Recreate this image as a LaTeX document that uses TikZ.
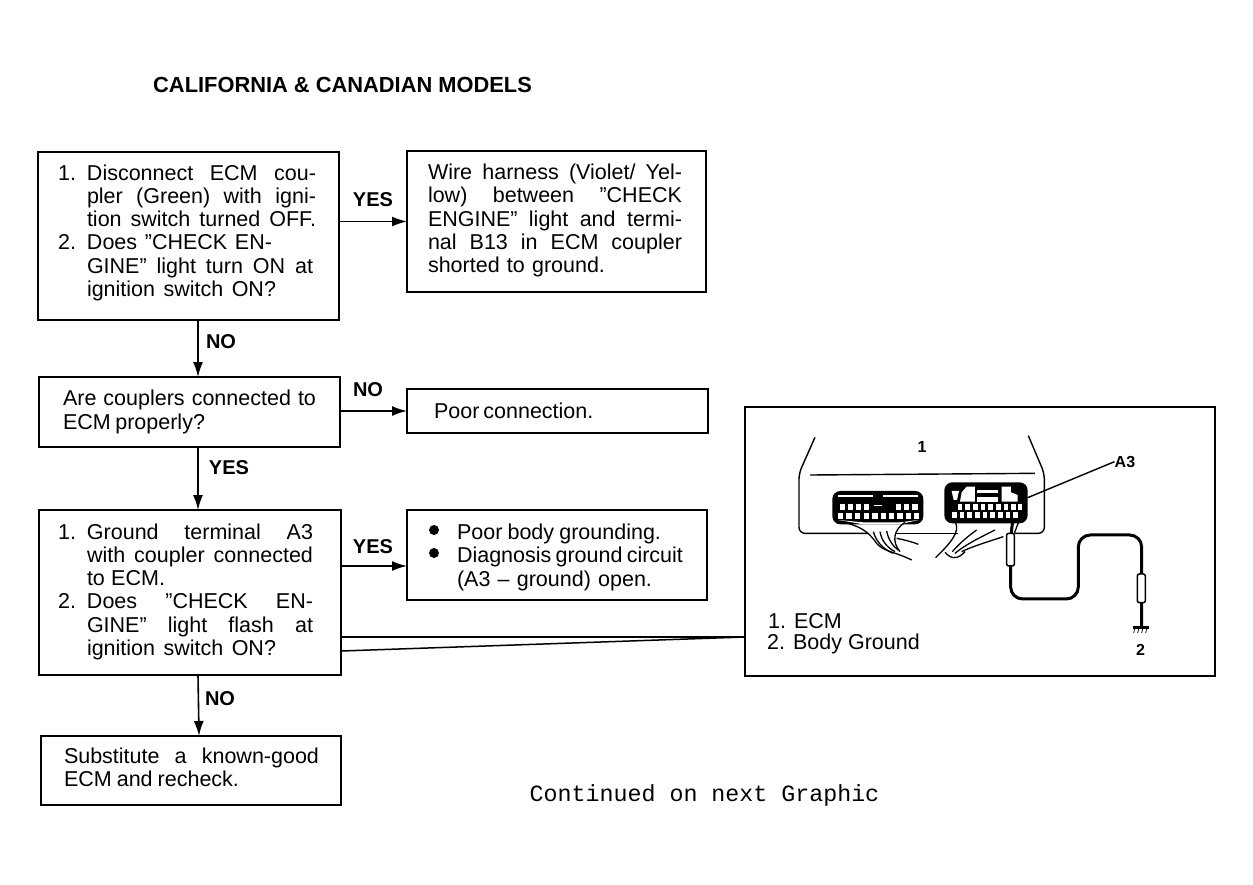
\documentclass[tikz,border=0pt]{standalone}
\usepackage{fontspec}
\setmainfont{Liberation Sans}
\newfontfamily\typefont{Liberation Mono}
\usetikzlibrary{arrows.meta,positioning}

% one justified line: left inset, width, text
\newcommand{\jl}[3]{\hspace*{#1pt}\makebox[#2pt][s]{\spaceskip=0pt \xspaceskip=0pt #3}}
\newcommand{\numd}[1]{\llap{#1\hspace{11pt}}}
\newcommand{\lift}[1]{\rule[-#1pt]{0pt}{#1pt}}

\begin{document}
\begin{tikzpicture}[
    x=1pt, y=-1pt,
    flowbox/.style={draw, line width=1.5pt, anchor=north west, inner sep=0pt, outer sep=0pt, align=left,
      font=\fontsize{21.5}{23.3}\selectfont},
    answer/.style={inner sep=0pt, font=\fontsize{20}{24}\selectfont\bfseries},
    arrow/.style={-{Latex[length=15pt, width=10pt]}, line width=1.6pt},
    tapline/.style={line width=1.5pt},
    inkline/.style={line width=1.4pt},
    wire/.style={line width=1.3pt},
    sleeve/.style={draw, fill=white, line width=1.5pt},
    pin/.style={fill=white},
    spot/.style={circle, fill, inner sep=0pt, minimum size=10pt}
  ]
    \useasboundingbox (0,0) rectangle (1253,884);

    \node[inner sep=0pt, anchor=west, font=\fontsize{21.85}{24}\selectfont\bfseries] (title) at (153,85) {CALIFORNIA \& CANADIAN MODELS};

    \node[flowbox, text width=301pt, minimum height=168pt] (disconnect) at (38,152) {%
      \jl{49}{229}{\numd{1.}Disconnect ECM cou-}\\
      \jl{49}{229}{pler (Green) with igni-}\\
      \jl{49}{229}{tion switch turned OFF.}\\
      \jl{49}{185}{\numd{2.}Does ”CHECK EN-}\\
      \jl{49}{226}{GINE” light turn ON at}\\
      \jl{49}{189}{ignition switch ON?}\lift{11}};
    \node[flowbox, text width=299pt, minimum height=141pt] (harness) at (407,151) {%
      \jl{21}{254}{Wire harness (Violet/ Yel-}\\
      \jl{21}{254}{low) between ”CHECK}\\
      \jl{21}{254}{ENGINE” light and termi-}\\
      \jl{21}{254}{nal B13 in ECM coupler}\\
      \jl{21}{177}{shorted to ground.}\lift{6}};
    \node[flowbox, text width=301pt, minimum height=70pt] (couplers) at (39,377) {%
      \jl{24}{253}{Are couplers connected to}\\
      \jl{24}{142}{ECM properly?}};
    \node[flowbox, text width=301pt, minimum height=44pt] (poor) at (407,389) {%
      \jl{27}{154}{Poor connection.}};
    \node[flowbox, text width=302pt, minimum height=165pt] (terminal) at (39,510) {%
      \jl{48}{226}{\numd{1.}Ground terminal A3}\\
      \jl{48}{226}{with coupler connected}\\
      \jl{48}{78}{to ECM.}\\
      \jl{48}{226}{\numd{2.}Does ”CHECK EN-}\\
      \jl{48}{226}{GINE” light flash at}\\
      \jl{48}{189}{ignition switch ON?}\lift{6}};
    \node[flowbox, text width=300pt, minimum height=90pt] (body) at (407,510) {%
      \rule{0pt}{20pt}\jl{50}{204}{Poor body grounding.}\\
      \jl{50}{226}{Diagnosis ground circuit}\\
      \jl{50}{195}{(A3 -- ground) open.}};
    \node[spot] (spota) at (434,530) {};
    \node[spot] (spotb) at (434,553) {};
    \node[flowbox, text width=300pt, minimum height=69pt] (substitute) at (41,736) {%
      \jl{23}{255}{Substitute a known-good}\\
      \jl{23}{175}{ECM and recheck.}\lift{6}};

    \node[draw, line width=1.5pt, anchor=north west, inner sep=0pt, outer sep=0pt, minimum width=470pt, minimum height=269pt] (inset) at (745,407) {};

    \node[answer] (yesa) at (373,200) {YES};
    \node[answer] (noa) at (221,342) {NO};
    \node[answer] (nob) at (368,390) {NO};
    \node[answer] (yesb) at (229,468) {YES};
    \node[answer] (yesc) at (373,547) {YES};
    \node[answer] (noc) at (220,699) {NO};

    \draw[arrow] (disconnect.east |- harness.west) -- (harness.west);
    \draw[arrow] ([xshift=9.5pt]disconnect.south) -- ([xshift=8.5pt]couplers.north);
    \draw[arrow] (couplers.east |- poor.west) -- (poor.west);
    \draw[arrow] ([xshift=8.5pt]couplers.south) -- ([xshift=8pt]terminal.north);
    \draw[arrow] ([yshift=-11pt]terminal.east |- body.west) -- ([yshift=-11pt]body.west);
    \draw[arrow] ([xshift=8pt]terminal.south) -- ([xshift=8pt]substitute.north);

    % two lines out to the inset
    \coordinate (tap) at (745,637);
    \draw[tapline] (terminal.east |- tap) -- (inset.west |- tap);
    \draw[tapline] ([yshift=-14pt]terminal.east |- tap) -- (inset.west |- tap);

    \node[inner sep=0pt, anchor=west, font=\fontsize{21.5}{24}\selectfont] (ecmkey) at (768,621) {1. ECM};
    \node[inner sep=0pt, anchor=west, font=\fontsize{21.5}{24}\selectfont] (groundkey) at (767,644) {2. Body Ground};
    \node[inner sep=0pt, font=\typefont\fontsize{23.3}{26}\selectfont] (continued) at (704.5,795) {Continued on next Graphic};

    % inset picture, in 3x crop units
    \begin{scope}[shift={(745,405)}, x=0.3333pt, y=-0.3333pt]
      \node[inner sep=0pt, font=\fontsize{16}{18}\selectfont\bfseries] (numone) at (531,127) {1};
      \node[inner sep=0pt, font=\fontsize{16}{18}\selectfont\bfseries] (aterm) at (1140,170) {A3};
      \node[inner sep=0pt, font=\fontsize{16}{18}\selectfont\bfseries] (numtwo) at (1187,735) {2};

      % ECM case
      \draw[inkline, rounded corners=6pt] (210,97) -- (162,205) -- (162,385) -- (370,385);
      \draw[inkline, rounded corners=6pt] (850,92) -- (898,205) -- (898,385) -- (810,385);
      \draw[inkline] (450,385) -- (640,385);
      \draw[inkline] (195,210) -- (870,205);
      \draw[inkline] (848,278) -- (aterm.west);

      % left coupler
      \fill[rounded corners=8pt] (262,258) rectangle (535,358);
      \fill[pin] (280,270) rectangle (385,276);
      \fill[pin] (415,270) rectangle (520,276);
      \fill[pin] (388,300) rectangle (410,304);
      \foreach \px in {292,316,340,365,460,485,510}
        \fill[pin] (\px-8,297) rectangle (\px+8,315);
      \foreach \px in {286,312,338,364,390,415,440,465,490,515}
        \fill[pin] (\px-8,324) rectangle (\px+8,342);
      \fill[pin] (280,345) -- (355,358) -- (465,358) -- (520,345) -- (465,352) -- (355,352) -- cycle;

      % right coupler
      \fill[rounded corners=8pt] (598,232) rectangle (848,355);
      \fill[pin] (650,262) -- (665,245) -- (690,245) -- (690,290) -- (645,290) -- cycle;
      \fill[pin] (770,245) -- (798,245) -- (798,262) -- (818,270) -- (818,290) -- (770,290) -- cycle;
      \fill[pin] (695,255) rectangle (760,265);
      \fill[pin] (695,275) rectangle (760,290);
      \fill[pin] (620,258) -- (642,258) -- (636,285) -- (626,285) -- cycle;
      \foreach \px in {645,668,691,714,737,760,783,805,825}
        \fill[pin] (\px-7,298) rectangle (\px+7,314);
      \foreach \px in {628,651,674,697,720,743,766,789,812}
        \fill[pin] (\px-7,322) rectangle (\px+7,340);

      % harness wires
      \draw[wire] (290,350) .. controls (350,365) and (370,380) .. (395,415) .. controls (415,440) and (450,440) .. (500,465);
      \draw[wire] (385,380) .. controls (395,415) and (420,435) .. (445,445);
      \draw[wire] (405,380) .. controls (410,410) and (430,430) .. (450,440);
      \draw[wire] (425,378) .. controls (430,405) and (445,425) .. (460,435);
      \draw[wire] (480,352) .. controls (445,375) and (440,410) .. (465,440);
      \draw[wire] (455,400) .. controls (480,405) and (500,410) .. (520,418);
      \draw[wire] (630,350) .. controls (650,380) and (610,420) .. (572,458);
      \draw[wire] (695,375) .. controls (660,400) and (640,420) .. (622,440);
      \draw[wire] (750,375) .. controls (700,400) and (660,420) .. (630,445);
      \draw[wire] (775,395) .. controls (730,410) and (680,425) .. (650,440);
      \draw[wire] (600,442) .. controls (620,465) and (640,462) .. (660,440);
      \draw[wire] (825,340) -- (808,385);

      % ground lead
      \draw[line width=3pt, rounded corners=12pt] (805,340) -- (797,385) -- (797,582) -- (1000,582) -- (1000,390) -- (1190,390) -- (1190,665);
      \draw[sleeve, rounded corners=2pt] (785,385) rectangle (808,483);
      \draw[sleeve, rounded corners=2pt] (1177,507) rectangle (1201,593);
      \draw[line width=2.5pt] (1165,667) -- (1213,667);
      \foreach \px in {1170,1182,1194,1206}
        \draw[line width=0.7pt] (\px,669) -- (\px-4,684);
    \end{scope}
  \end{tikzpicture}
\end{document}
